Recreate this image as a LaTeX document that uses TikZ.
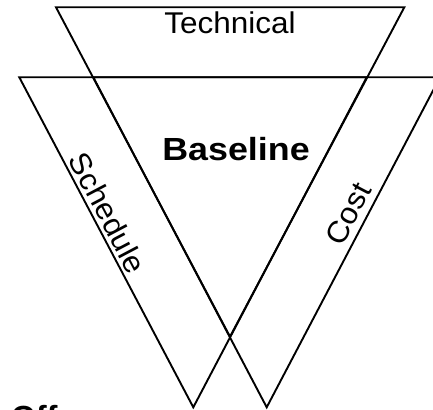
\documentclass[tikz,border=0pt]{standalone}
\usepackage{fontspec}
\usepackage{graphicx}
\setmainfont{Liberation Sans}
\begin{document}
\begin{tikzpicture}[x=1pt,y=-1pt,
  tri/.style={draw=black,line width=1.9pt,line join=miter},
  lbl/.style={inner sep=0pt,font=\fontsize{30}{31}\selectfont},
  blbl/.style={inner sep=0pt,font=\fontsize{32}{33}\selectfont\bfseries}]
\useasboundingbox (0,0) rectangle (433,409);
\clip (0,0) rectangle (433,409);
% Technical triangle
\coordinate (t1) at (56,7.3);
\coordinate (t2) at (404.3,7.3);
\coordinate (t3) at (230,336.7);
\draw[tri] (t1) -- (t2) -- (t3) -- cycle;
% Schedule triangle
\coordinate (s1) at (19.3,77.3);
\coordinate (s2) at (366.7,77.3);
\coordinate (s3) at (193.3,407.3);
\draw[tri] (s1) -- (s2) -- (s3) -- cycle;
% Cost triangle
\coordinate (c1) at (93.3,77.3);
\coordinate (c2) at (440,77.3);
\coordinate (c3) at (266.7,407.3);
\draw[tri] (c1) -- (c2) -- (c3) -- cycle;
% labels
\node[lbl] (technical) at (230,22.5) {\scalebox{1.05}[1]{Technical}};
\node[blbl] (baseline) at (236,149) {\scalebox{1.12}[1]{Baseline}};
\node[lbl,rotate=-62.2] (schedule) at (108,213) {\scalebox{1.05}[1]{Schedule}};
\node[lbl,rotate=62.3] (cost) at (348,214) {\scalebox{1.05}[1]{Cost}};
\node[blbl,anchor=north west] (frag) at (11,405) {Off};
\end{tikzpicture}
\end{document}
